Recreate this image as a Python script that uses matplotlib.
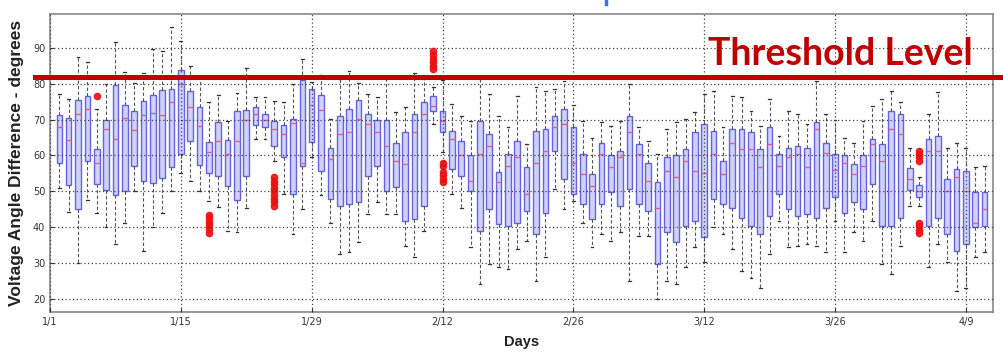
import matplotlib
matplotlib.use("Agg")
import matplotlib.pyplot as plt
import matplotlib.transforms as mtransforms
from matplotlib.lines import Line2D

# ---------- data ----------

days = list(range(1, 101))

whisker_low = [51, 44.3, 30, 47.5, 44, 40, 35.3, 41.3, 50, 33.5,
               40, 44, 50, 55, 53, 50, 47.4, 45.6, 39, 38.6,
               45.5, 64.5, 64.5, 58.5, 49.2, 38.2, 45.1, 59.6, 49, 41.3,
               32.5, 33, 35.8, 43.7, 46.9, 43.7, 43.7, 34.8, 31.6, 39,
               68.7, 61, 49.2, 45.5, 34.4, 24.2, 29.7, 28.8, 28.3, 33.9,
               36.2, 25.1, 31.6, 50.6, 45, 47.4, 41.3, 34.4, 38.1, 36.2,
               38.6, 25.1, 37.6, 37.6, 20, 25.1, 24.2, 28.8, 34.4, 30.2,
               40, 38.1, 33.9, 27.9, 26, 23.2, 32.5, 41.8, 34.4, 34.8,
               35.3, 34.8, 33, 41.8, 33, 38.6, 36.2, 41.8, 29.7, 27,
               34.8, 46, 46, 28.8, 35.3, 30.2, 22.3, 23.2, 31.6, 33]

q1 = [57.8, 51.8, 45, 58.4, 52, 50.4, 49.1, 50, 57, 52.8,
      52.3, 53.7, 56.8, 60.5, 64.1, 57.4, 55.2, 54.2, 51.6, 47.7,
      54.4, 68.6, 67.9, 62.5, 59.5, 49.3, 57, 63.7, 55.8, 47.8,
      46, 46.5, 46.9, 54.3, 57.1, 50.2, 51.1, 41.8, 42.3, 46,
      72.5, 66.4, 56.2, 54.3, 50.2, 39, 45, 40.9, 40.4, 41.3,
      44.6, 38.1, 44.1, 61.3, 53.4, 49.2, 46.5, 42.3, 46.5, 49.7,
      46, 50.6, 46.5, 44.6, 29.7, 38.6, 35.8, 40.4, 41.8, 37.3,
      47.8, 46.5, 45.5, 42.7, 40.4, 38.1, 43.2, 49.2, 45, 43.2,
      43.7, 42.7, 45.5, 48.3, 44.1, 46.9, 45, 52, 40.4, 40.4,
      42.7, 50.5, 48.5, 40.4, 42.7, 38.1, 33.5, 35.3, 40, 40.4]

median = [68, 64.3, 71.5, 73, 57.8, 67.5, 64.7, 70.4, 67.2, 71.2,
          71.7, 71.2, 75, 80, 73.6, 68.3, 61, 64, 60.4, 64,
          70, 71.5, 69.8, 67.3, 66, 69, 58, 74, 72.8, 59,
          66, 66.4, 70.1, 68.7, 66.4, 62.7, 58.5, 57.6, 66.4, 71.5,
          73.8, 69.5, 64.6, 60, 53, 60.4, 62.7, 52.5, 57.1, 59.5,
          49.2, 58, 61.3, 67.8, 68.7, 58, 54.8, 51.6, 60.4, 56.7,
          59.5, 66.4, 60.4, 52.9, 45.5, 55.7, 53.9, 58.5, 55.7, 55,
          60.4, 54.8, 63.6, 61.8, 61.8, 56.7, 63.2, 57.1, 59.5, 60.4,
          56.7, 67.3, 60.8, 56, 58, 54.8, 57.1, 63.2, 58.5, 67.3,
          66, 53.5, 50.2, 61.3, 61.3, 50.2, 53.9, 50, 41.3, 45]

q3 = [71.3, 70.4, 75.4, 76.7, 61.7, 70, 79.5, 74.1, 72.5, 75.3,
      76.9, 78.1, 78.6, 83.7, 77.9, 73.5, 63.7, 69.2, 64.4, 72.5,
      72.6, 73.5, 71.6, 69.7, 68.6, 70.2, 80.9, 78.6, 76.9, 62.2,
      71, 72.9, 75.4, 71.5, 69.8, 69.8, 63.6, 66.4, 71.5, 74.8,
      76.6, 72.5, 66.9, 64.1, 60, 69.7, 66, 55.3, 60.4, 64.1,
      56.7, 66.9, 67.3, 71, 72.9, 67.8, 60.4, 54.8, 63.6, 60,
      61.3, 71, 63.2, 58, 52.5, 59.5, 60, 61.8, 66.4, 68.7,
      66.9, 58.5, 67.3, 67.3, 66.4, 61.8, 67.8, 60.4, 62.2, 62.7,
      62.2, 69.2, 63.6, 60.4, 60, 57.6, 60, 64.6, 63.2, 72.5,
      71.5, 56.5, 51.8, 64.6, 65.5, 53.4, 56.2, 55.7, 49.7, 49.7]

whisker_high = [77, 75.7, 87.5, 86, 73, 80, 91.6, 83.2, 80.1, 83.1,
                89.6, 89, 95.7, 92, 85, 81.5, 75, 76.9, 69.7, 77.4,
                84.3, 76.4, 76.2, 75.2, 74.8, 80, 87, 80.5, 82.5, 70.1,
                81.3, 83.6, 80.3, 77, 76.2, 81.3, 72, 73.4, 83, 81.3,
                79, 81, 74.3, 71, 69.7, 81.3, 77, 71, 67.8, 76.6,
                63.2, 79, 78, 78.5, 80.8, 74, 69.7, 65, 69.2, 68.3,
                69.7, 79.9, 67.8, 64.1, 60.4, 67.3, 69.2, 70.1, 72, 77,
                78, 67.8, 76.6, 76.2, 72.5, 68.3, 75.7, 65.5, 72.5, 71.5,
                68.7, 80.8, 71.5, 70, 65, 63.6, 69.7, 73.8, 75.7, 78,
                74.8, 62, 54, 71.5, 77.6, 62.2, 63.6, 62, 56.7, 57.1]

# outliers, by day
outliers = {
    5: [76.5],
    17: [38.5, 39.5, 40.5, 41.5, 42.5, 43.5],
    24: [46, 47, 48, 49, 50, 51, 52, 53, 54],
    41: [84, 85, 86, 87, 88, 89],
    42: [52.5, 53.5, 54.5, 55.5, 57, 58],
    93: [38.3, 39.3, 40.3, 41.3, 58.5, 59.5, 60.5, 61.2],
}

tick_days = [0, 14, 28, 42, 56, 70, 84, 98]
tick_labels = ["1/1", "1/15", "1/29", "2/12", "2/26", "3/12", "3/26", "4/9"]
y_ticks = [20, 30, 40, 50, 60, 70, 80, 90]
threshold = 81.8

# ---------- plot ----------

fig = plt.figure(figsize=(10.04, 3.54), dpi=100)
ax = fig.add_axes([50 / 1004, 42 / 354, 943 / 1004, 298 / 354])

stats = []
for i, d in enumerate(days):
    stats.append({
        "med": median[i], "q1": q1[i], "q3": q3[i],
        "whislo": whisker_low[i], "whishi": whisker_high[i],
        "fliers": outliers.get(d, []),
    })

ax.bxp(stats, positions=days, widths=0.6, patch_artist=True,
       manage_ticks=False, capwidths=0.3,
       boxprops=dict(facecolor="#d0d0fa", edgecolor="#6464dc", linewidth=1.0),
       medianprops=dict(color="#e0608a", linewidth=1.0),
       whiskerprops=dict(color="#555555", linewidth=0.8, linestyle=(0, (3, 2))),
       capprops=dict(color="#333333", linewidth=0.9),
       flierprops=dict(marker="o", markersize=4.5, markerfacecolor="#ee1111",
                       markeredgecolor="#ee1111", alpha=0.9))

ax.set_xlim(0, 100.9)
ax.set_ylim(16.4, 99.4)
ax.set_xticks(tick_days)
ax.set_xticklabels(tick_labels)
ax.set_yticks(y_ticks)
ax.tick_params(labelsize=7, colors="#333333", direction="in", length=3)
ax.grid(True, color="#444444", linestyle=(0, (1, 2)), linewidth=0.9)
ax.set_axisbelow(False)
for s in ax.spines.values():
    s.set_color("#888888")
    s.set_linewidth(1.2)

ax.set_ylabel("Voltage Angle Difference - degrees", fontsize=12.5,
              fontweight="bold", family="Liberation Sans", color="#222222",
              labelpad=6)
ax.set_xlabel("Days", fontsize=10.5, fontweight="bold",
              family="Liberation Sans", color="#222222", labelpad=6)

# threshold line runs past the axes on both sides
trans = mtransforms.blended_transform_factory(ax.transAxes, ax.transData)
ax.plot([-0.016, 1.02], [threshold, threshold], color="#c00000",
        linewidth=3.6, transform=trans, clip_on=False, zorder=5)
ax.text(0.979, 85.2, "Threshold Level", transform=trans, ha="right",
        va="baseline", fontsize=27, fontweight="bold", family="Lato",
        color="#c00000", zorder=6)

# bit of a cut-off blue title mark at the top edge
fig.add_artist(Line2D([606 / 1004, 606 / 1004], [1.0, 1 - 4 / 354],
                      color="#3a78d8", linewidth=2.5))

fig.savefig("out.png", dpi=100)
